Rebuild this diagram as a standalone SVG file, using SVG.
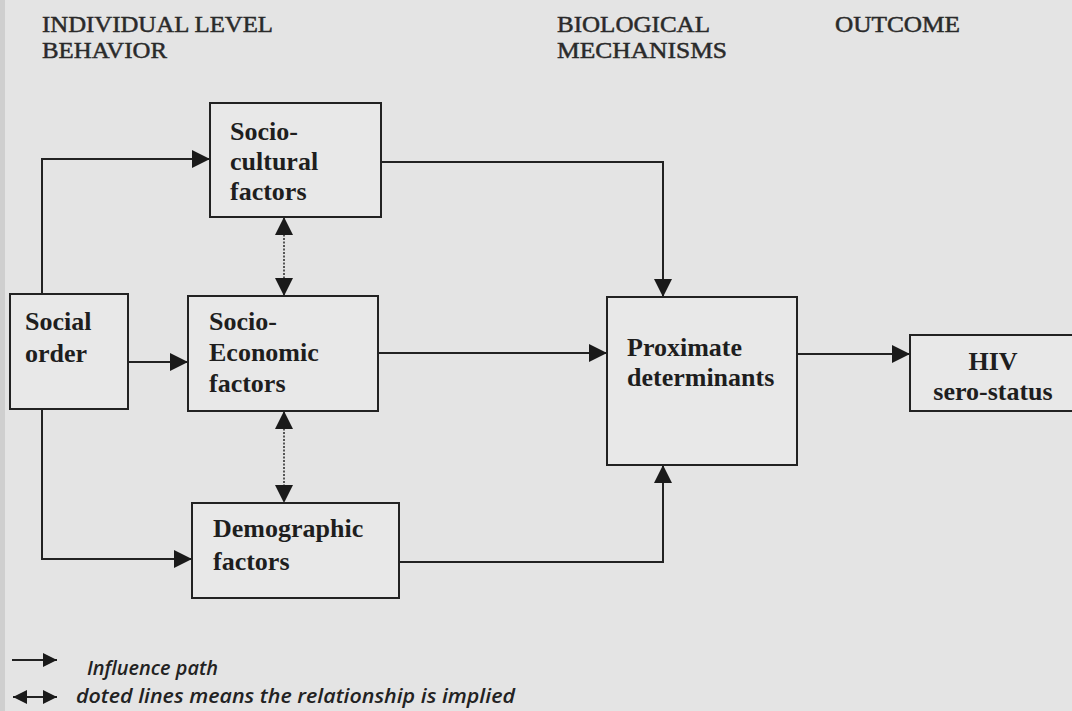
<svg xmlns="http://www.w3.org/2000/svg" width="1072" height="711" viewBox="0 0 1072 711">
  <style>
    .hdr { font-family: "Liberation Serif", "Times New Roman", serif; font-size: 24px; fill: #2a2a2a; stroke: #2a2a2a; stroke-width: 0.5; }
    .box { fill: #e8e8e8; stroke: #222; stroke-width: 2; }
    .lbl { font-family: "Liberation Serif", "Times New Roman", serif; font-size: 26px; font-weight: bold; fill: #1e1e1e; }
    .conn { fill: none; stroke: #222; stroke-width: 2; }
    .dot { fill: none; stroke: #333; stroke-width: 1.6; stroke-dasharray: 2 1.5; }
    .leg { font-family: "Open Sans", "DejaVu Sans", sans-serif; font-size: 19px; font-style: italic; font-weight: 600; fill: #222; }
  </style>
  <defs>
    <marker id="ah" viewBox="0 0 10 10" refX="10" refY="5" markerUnits="userSpaceOnUse" markerWidth="19" markerHeight="18" orient="auto-start-reverse">
      <path d="M0,0 L10,5 L0,10 z" fill="#1a1a1a"/>
    </marker>
    <marker id="ahs" viewBox="0 0 10 10" refX="10" refY="5" markerUnits="userSpaceOnUse" markerWidth="15" markerHeight="14" orient="auto-start-reverse">
      <path d="M0,0 L10,5 L0,10 z" fill="#1a1a1a"/>
    </marker>
  </defs>
  <rect x="0" y="0" width="1072" height="711" fill="#e4e4e4"/>
  <rect x="0" y="0" width="5" height="711" fill="#cfcfcf"/>

  <g id="headers">
    <text class="hdr" x="42" y="32" textLength="231" lengthAdjust="spacingAndGlyphs">INDIVIDUAL LEVEL</text>
    <text class="hdr" x="42" y="58" textLength="125" lengthAdjust="spacingAndGlyphs">BEHAVIOR</text>
    <text class="hdr" x="557" y="32" textLength="153" lengthAdjust="spacingAndGlyphs">BIOLOGICAL</text>
    <text class="hdr" x="557" y="58" textLength="170" lengthAdjust="spacingAndGlyphs">MECHANISMS</text>
    <text class="hdr" x="835" y="32" textLength="125" lengthAdjust="spacingAndGlyphs">OUTCOME</text>
  </g>

  <g id="connectors">
    <path class="conn" d="M42,294 V159 H210" marker-end="url(#ah)"/>
    <path class="conn" d="M128,362 H188" marker-end="url(#ah)"/>
    <path class="conn" d="M42,409 V559 H192" marker-end="url(#ah)"/>
    <path class="conn" d="M381,162 H663 V297" marker-end="url(#ah)"/>
    <path class="conn" d="M378,353 H607" marker-end="url(#ah)"/>
    <path class="conn" d="M399,562 H663 V465" marker-end="url(#ah)"/>
    <path class="conn" d="M797,354 H910" marker-end="url(#ah)"/>
    <path class="dot" d="M284,217 V296" marker-start="url(#ah)" marker-end="url(#ah)"/>
    <path class="dot" d="M284,411 V503" marker-start="url(#ah)" marker-end="url(#ah)"/>
  </g>

  <g id="social-order">
    <rect class="box" x="10" y="294" width="118" height="115"/>
    <text class="lbl" x="25" y="330">Social</text>
    <text class="lbl" x="25" y="362">order</text>
  </g>
  <g id="socio-cultural">
    <rect class="box" x="210" y="103" width="171" height="114"/>
    <text class="lbl" x="230" y="140">Socio-</text>
    <text class="lbl" x="230" y="170">cultural</text>
    <text class="lbl" x="230" y="200">factors</text>
  </g>
  <g id="socio-economic">
    <rect class="box" x="188" y="296" width="190" height="115"/>
    <text class="lbl" x="209" y="330">Socio-</text>
    <text class="lbl" x="209" y="361">Economic</text>
    <text class="lbl" x="209" y="392">factors</text>
  </g>
  <g id="demographic">
    <rect class="box" x="192" y="503" width="207" height="95"/>
    <text class="lbl" x="213" y="537">Demographic</text>
    <text class="lbl" x="213" y="570">factors</text>
  </g>
  <g id="proximate">
    <rect class="box" x="607" y="297" width="190" height="168"/>
    <text class="lbl" x="627" y="356">Proximate</text>
    <text class="lbl" x="627" y="386">determinants</text>
  </g>
  <g id="hiv">
    <rect class="box" x="910" y="335" width="170" height="76"/>
    <text class="lbl" x="993" y="370" text-anchor="middle">HIV</text>
    <text class="lbl" x="993" y="400" text-anchor="middle">sero-status</text>
  </g>

  <g id="legend">
    <path class="conn" d="M12,660 H57" marker-end="url(#ahs)"/>
    <path class="conn" d="M13,697 H57" marker-start="url(#ahs)" marker-end="url(#ahs)"/>
    <text class="leg" x="87" y="675" textLength="131" lengthAdjust="spacingAndGlyphs">Influence path</text>
    <text class="leg" x="76" y="703" textLength="439" lengthAdjust="spacingAndGlyphs">doted lines means the relationship is implied</text>
  </g>
</svg>
